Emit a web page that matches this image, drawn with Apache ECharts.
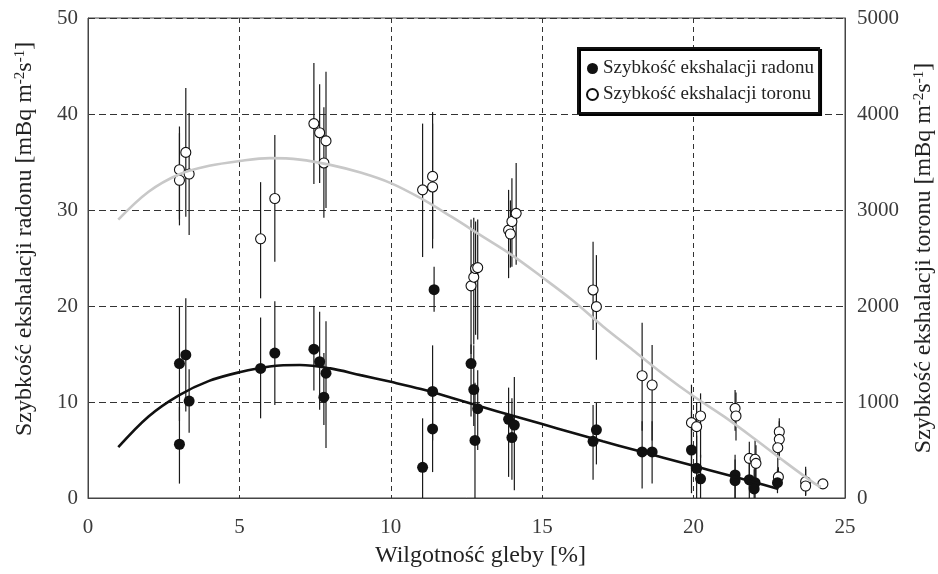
<!DOCTYPE html>
<html>
<head>
<meta charset="utf-8">
<script src="https://cdn.jsdelivr.net/npm/echarts@6/dist/echarts.min.js"></script>
<style>
  html, body { margin: 0; padding: 0; background: #fff; }
  #chart_1 { width: 938px; height: 574px; }
</style>
</head>
<body>
<div id="chart_1"></div>
<script>
// radon: [x, value, low, high]  (mBq m-2 s-1)
var radonX  = [3.02, 3.02, 3.23, 3.34, 5.70, 6.17, 7.46, 7.65, 7.86, 7.79, 11.05, 11.38, 11.38, 11.43, 12.65, 12.74, 12.87, 12.78, 13.89, 14.08, 14.00, 16.68, 16.79, 18.30, 18.63, 19.93, 20.10, 20.23, 21.37, 21.37, 21.84, 22.03, 22.00, 22.77];
var radonY  = [14.0, 5.6, 14.9, 10.1, 13.5, 15.1, 15.5, 14.2, 13.0, 10.5, 3.2, 11.1, 7.2, 21.7, 14.0, 11.3, 9.3, 6.0, 8.2, 7.6, 6.3, 5.9, 7.1, 4.8, 4.8, 5.0, 3.1, 2.0, 2.4, 1.8, 1.9, 1.6, 0.95, 1.6];
var radonLo = [8.0, 1.5, 9.0, 6.8, 8.3, 9.7, 11.2, 9.2, 5.2, 7.6, 0.0, 6.0, 2.7, 19.4, 8.5, 7.5, 5.0, 0.0, 2.2, 0.8, 1.9, 1.9, 3.5, 1.0, 1.5, 0.5, 0.0, 0.0, 0.0, 0.0, 0.0, 0.0, 0.0, 0.5];
var radonHi = [19.9, 9.5, 20.8, 13.4, 18.8, 20.5, 20.0, 19.4, 18.4, 15.1, 8.3, 15.9, 11.5, 24.1, 16.0, 15.9, 13.3, 12.0, 11.5, 12.6, 10.4, 9.7, 9.9, 8.0, 8.0, 9.0, 6.5, 4.5, 4.5, 4.0, 4.0, 4.3, 3.0, 3.0];

// toron: [x, value, low, high]
var toronX  = [3.02, 3.02, 3.23, 3.34, 5.70, 6.17, 7.46, 7.65, 7.86, 7.79, 11.05, 11.38, 11.38, 12.65, 12.74, 12.80, 12.87, 13.89, 13.95, 14.00, 14.14, 16.68, 16.79, 18.30, 18.63, 19.93, 20.10, 20.23, 21.37, 21.40, 21.84, 22.03, 22.06, 22.83, 22.83, 22.78, 22.80, 23.70, 23.70, 24.27];
var toronY  = [3420, 3310, 3600, 3375, 2700, 3120, 3900, 3805, 3720, 3490, 3210, 3350, 3240, 2210, 2300, 2390, 2400, 2790, 2750, 2880, 2965, 2167, 1993, 1274, 1177, 785, 743, 854, 934, 854, 413, 403, 361, 690, 611, 524, 220, 170, 125, 147];
var toronLo = [2900, 2840, 2930, 2740, 2080, 2460, 3270, 3280, 3020, 2920, 2510, 2600, 2700, 1500, 1600, 1700, 1650, 2290, 2400, 2410, 2430, 1750, 1440, 700, 600, 300, 250, 420, 700, 600, 100, 150, 100, 450, 400, 300, 100, 30, 20, 147];
var toronHi = [3870, 3800, 4270, 4010, 3290, 3780, 4530, 4310, 4440, 4070, 3900, 4020, 3900, 2900, 2920, 2880, 2900, 3210, 3100, 3330, 3490, 2670, 2530, 1826, 1594, 1180, 1000, 1090, 1125, 1100, 587, 600, 550, 830, 800, 700, 320, 326, 300, 147];

// fitted curves
var radonFitX = [1, 2, 3, 4, 5, 6, 7, 8, 9, 10, 11, 12, 13, 14, 15, 16, 17, 18, 19, 20, 21, 22, 22.8];
var radonFitY = [5.3, 8.5, 10.7, 12.2, 13.1, 13.7, 13.85, 13.5, 12.8, 12.1, 11.35, 10.45, 9.5, 8.6, 7.7, 6.8, 5.9, 5.05, 4.2, 3.35, 2.5, 1.65, 0.95];
var toronFitX = [1, 2, 3, 4, 5, 6, 7, 8, 9, 10, 11, 12, 13, 14, 15, 16, 17, 18, 19, 20, 21, 22, 23, 24, 24.2];
var toronFitY = [2900, 3190, 3370, 3460, 3510, 3540, 3525, 3470, 3390, 3280, 3120, 2930, 2730, 2530, 2300, 2060, 1790, 1540, 1290, 1060, 850, 620, 380, 150, 115];

var xTicks = [0, 25, 5];
var radonName = 'Szybkość ekshalacji radonu';
var toronName = 'Szybkość ekshalacji toronu';

function zip(a, b, c) {
    var out = [];
    for (var i = 0; i < a.length; i++) out.push(c ? [a[i], b[i], c[i]] : [a[i], b[i]]);
    return out;
}

function errBars(params, api) {
    var p1 = api.coord([api.value(0), api.value(1)]);
    var p2 = api.coord([api.value(0), api.value(2)]);
    return {
        type: 'line',
        shape: { x1: p1[0], y1: p1[1], x2: p2[0], y2: p2[1] },
        style: { stroke: '#1a1a1a', lineWidth: 1.2 }
    };
}

var serif = 'Liberation Serif';
var supStyle = { fontFamily: serif, fontSize: 15, verticalAlign: 'top', color: '#222' };
var myChart = echarts.init(document.getElementById('chart_1'));
var option = {
    animation: false,
    grid: { left: 88, right: 93, top: 18, bottom: 76, show: true, borderColor: '#444', borderWidth: 1,
            outerBoundsMode: 'none' },
    legend: {
        data: [radonName, toronName],
        orient: 'vertical',
        left: 578, top: 48,
        itemWidth: 11, itemHeight: 11, itemGap: 7,
        padding: [11, 5, 9, 8],
        backgroundColor: '#fff',
        borderColor: '#111', borderWidth: 2,
        shadowColor: '#000', shadowOffsetX: 2, shadowOffsetY: 2, shadowBlur: 0,
        textStyle: { fontFamily: serif, fontSize: 19, color: '#222' }
    },
    xAxis: {
        type: 'value', min: xTicks[0], max: xTicks[1], interval: xTicks[2],
        name: 'Wilgotność gleby [%]', nameLocation: 'middle', nameGap: 46,
        nameTextStyle: { fontFamily: serif, fontSize: 24, color: '#222', padding: [0, 0, 0, 28] },
        axisLine: { show: true, lineStyle: { color: '#444' } },
        axisTick: { show: false },
        axisLabel: { fontFamily: serif, fontSize: 21, color: '#3a3a3a', margin: 19 },
        splitLine: { show: true, lineStyle: { color: '#333', type: [5, 4], width: 1 } }
    },
    yAxis: [{
        type: 'value', min: 0, max: 50, interval: 10,
        name: 'Szybkość ekshalacji radonu [mBq m{sup|-2}s{sup|-1}]',
        nameLocation: 'middle', nameRotate: 90, nameGap: 51,
        nameTextStyle: { fontFamily: serif, fontSize: 24, color: '#222', padding: [0, 0, 0, 38],
            rich: { sup: supStyle } },
        axisLine: { show: true, lineStyle: { color: '#444' } },
        axisTick: { show: false },
        axisLabel: { fontFamily: serif, fontSize: 21, color: '#3a3a3a', margin: 10 },
        splitLine: { show: true, lineStyle: { color: '#333', type: [7, 4], width: 1 } }
    }, {
        type: 'value', min: 0, max: 5000, interval: 1000, position: 'right',
        name: 'Szybkość ekshalacji toronu [mBq m{sup|-2}s{sup|-1}]',
        nameLocation: 'middle', nameRotate: 90, nameGap: 67,
        nameTextStyle: { fontFamily: serif, fontSize: 24, color: '#222',
            rich: { sup: supStyle } },
        axisLine: { show: true, lineStyle: { color: '#444' } },
        axisTick: { show: false },
        axisLabel: { fontFamily: serif, fontSize: 21, color: '#3a3a3a', margin: 12,
            formatter: function (v) { return String(v); } },
        splitLine: { show: false }
    }],
    series: [
        {
            type: 'custom', yAxisIndex: 1, renderItem: errBars, z: 2,
            encode: { x: 0, y: [1, 2] },
            data: zip(toronX, toronLo, toronHi)
        },
        {
            type: 'custom', yAxisIndex: 0, renderItem: errBars, z: 2,
            encode: { x: 0, y: [1, 2] },
            data: zip(radonX, radonLo, radonHi)
        },
        {
            name: toronName, type: 'scatter', yAxisIndex: 1, z: 3,
            symbol: 'circle', symbolSize: 10,
            itemStyle: { color: '#fff', borderColor: '#111', borderWidth: 1.1, opacity: 1 },
            data: zip(toronX, toronY)
        },
        {
            name: radonName, type: 'scatter', yAxisIndex: 0, z: 3,
            symbol: 'circle', symbolSize: 11,
            itemStyle: { color: '#111', opacity: 1 },
            data: zip(radonX, radonY)
        },
        {
            type: 'line', yAxisIndex: 1, z: 4, smooth: 0.35, showSymbol: false,
            lineStyle: { color: '#c8c8c8', width: 2.6 },
            data: zip(toronFitX, toronFitY)
        },
        {
            type: 'line', yAxisIndex: 0, z: 4, smooth: 0.35, showSymbol: false,
            lineStyle: { color: '#111', width: 2.6 },
            data: zip(radonFitX, radonFitY)
        }
    ]
};

if (option && typeof option === 'object')
    myChart.setOption(option);
window.addEventListener("resize", function () {
    myChart.resize();
});
</script>
</body>
</html>
